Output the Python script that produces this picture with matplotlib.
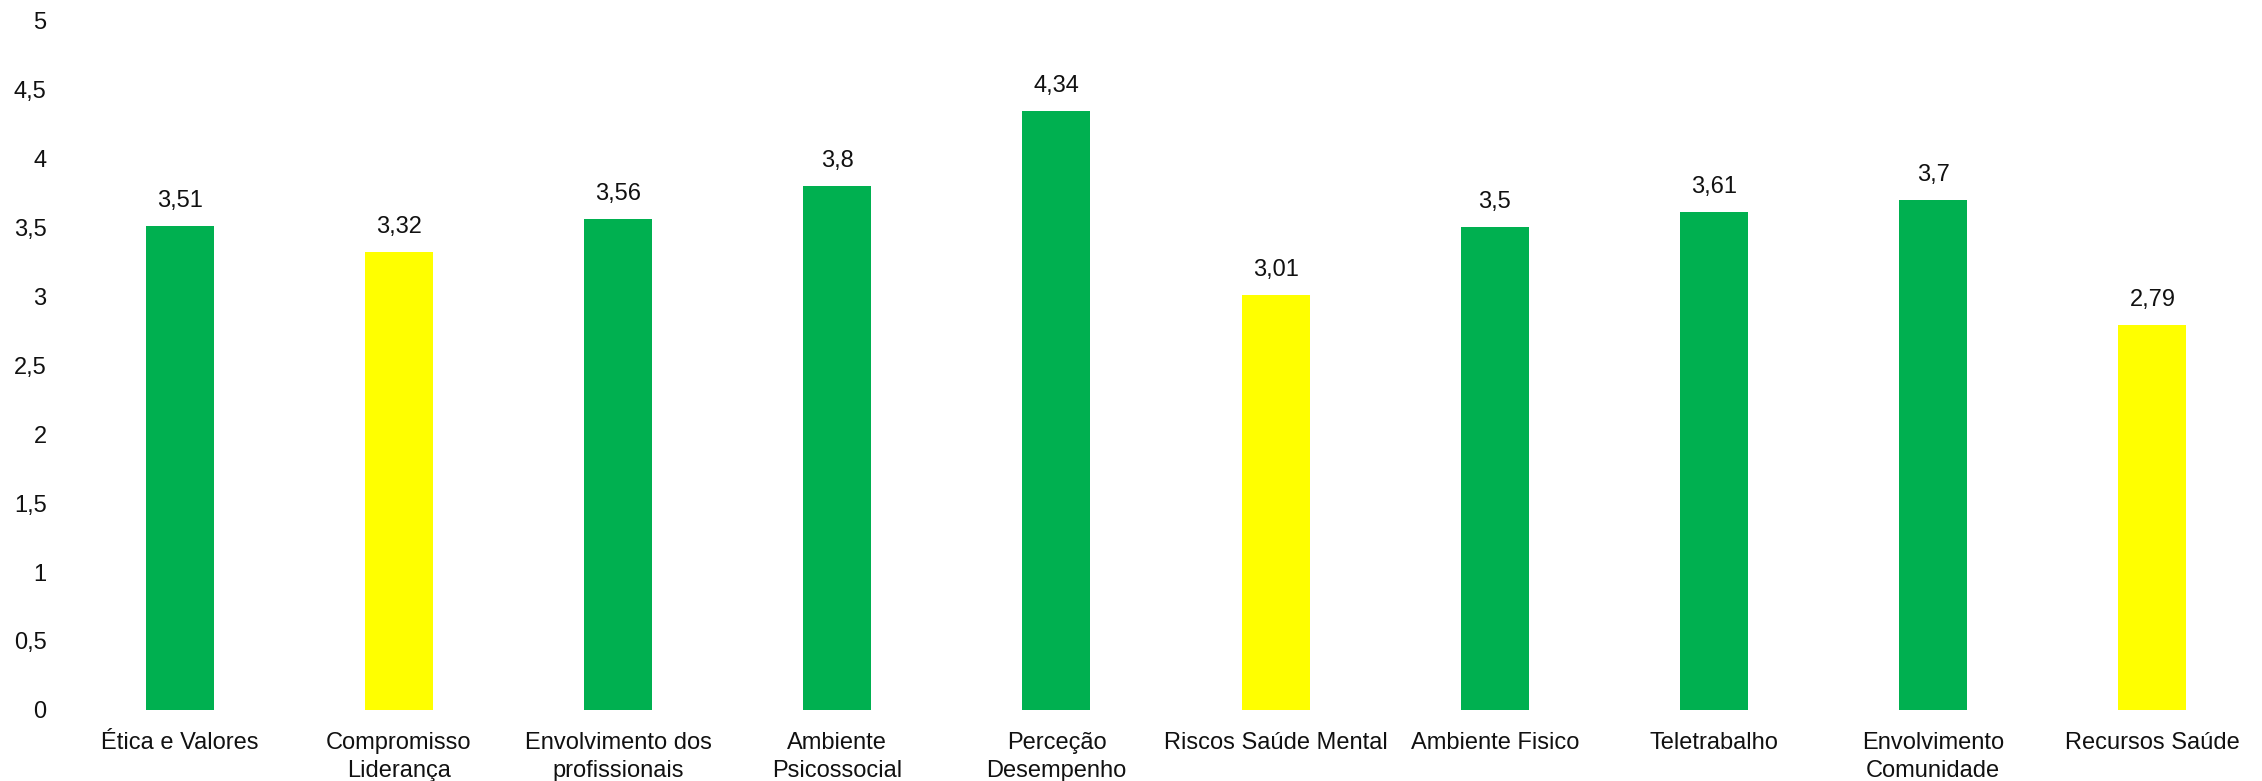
import matplotlib.pyplot as plt
import numpy as np

categories = ["Ética e Valores", "Compromisso\nLiderança", "Envolvimento dos\nprofissionais",
              "Ambiente\nPsicossocial", "Perceção\nDesempenho", "Riscos Saúde Mental",
              "Ambiente Fisico", "Teletrabalho", "Envolvimento\nComunidade", "Recursos Saúde"]
values = [3.51, 3.32, 3.56, 3.8, 4.34, 3.01, 3.5, 3.61, 3.7, 2.79]
bar_colors = ["#00B050", "#FFFF00", "#00B050", "#00B050", "#00B050",
              "#FFFF00", "#00B050", "#00B050", "#00B050", "#FFFF00"]
yticks = [0, 0.5, 1, 1.5, 2, 2.5, 3, 3.5, 4, 4.5, 5]

plt.rcParams['font.family'] = ['Liberation Sans', 'DejaVu Sans']

fig = plt.figure(figsize=(22.62, 7.81), dpi=100)
ax = fig.add_axes([0.031, 0.091, 0.969, 0.883])

x = np.arange(len(categories))
bars = ax.bar(x, values, width=0.31, color=bar_colors)

# data labels with comma decimal separator
for xi, v in zip(x, values):
    ax.annotate(f"{v:g}".replace('.', ','), (xi, v), xytext=(0, 10), textcoords='offset points',
                ha='center', va='bottom', fontsize=17, color='#111111')

ax.set_xlim(-0.5, len(categories) - 0.5)
ax.set_ylim(0, 5)
ax.set_xticks(x)
ax.set_xticklabels(categories, fontsize=17, color='#111111', linespacing=1.35)
ax.set_yticks(yticks)
ax.set_yticklabels([f"{t:g}".replace('.', ',') for t in yticks], fontsize=17, color='#111111')
ax.tick_params(length=0)
ax.tick_params(axis='x', pad=16)
ax.tick_params(axis='y', pad=17)
for s in ax.spines.values():
    s.set_visible(False)

fig.savefig("out.png", dpi=100)
